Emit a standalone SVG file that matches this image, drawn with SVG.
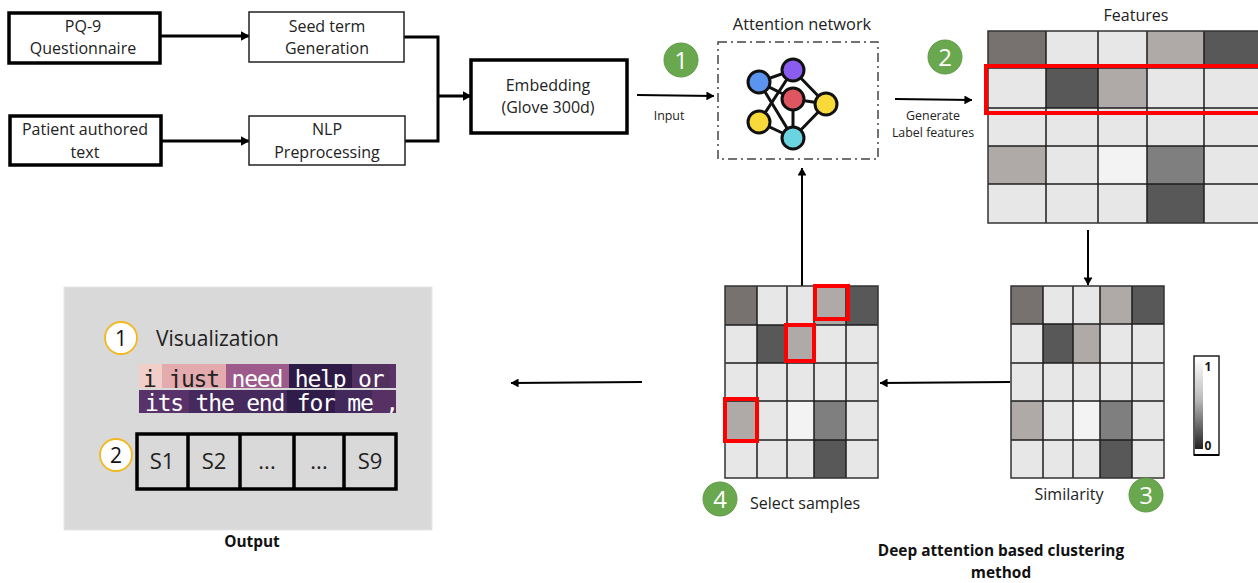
<svg xmlns="http://www.w3.org/2000/svg" width="1258" height="583" viewBox="0 0 1258 583">
<style>
text{font-family:"Open Sans","Noto Sans","Liberation Sans",sans-serif;fill:#222;text-anchor:middle}
.t{font-size:16px}
.s{font-size:12.4px}
.b{font-size:15.4px;font-weight:700;fill:#111}
.thick{fill:#fff;stroke:#000;stroke-width:3.5}
.thin{fill:#fff;stroke:#222;stroke-width:1.5}
.c{fill:none;stroke:#000;stroke-width:3}
.c2{fill:none;stroke:#000;stroke-width:2}
.green{fill:#6AA84F;stroke:#5f9a45;stroke-width:1}
.gn{font-size:24px;fill:#fff}
.ring{fill:#fff;stroke:#F2B81E;stroke-width:1.8}
.rn{font-size:23px;fill:#111}
.grid line{stroke:#1c1c1c;stroke-width:1.5}
.grid rect.f{fill:none;stroke:#333;stroke-width:1.5}
.red{fill:none;stroke:#F00;stroke-width:4}
.d{fill:#77716f}.l{fill:#E7E7E7}.g{fill:#AFAAA8}.k{fill:#585858}.w{fill:#F3F3F3}.m{fill:#7F7F7F}
.net line{stroke:#111;stroke-width:3}
.net circle{stroke:#111;stroke-width:3}
.mono{font-family:"DejaVu Sans Mono","Liberation Mono",monospace;font-size:23px;letter-spacing:-1.2px;text-anchor:start;white-space:pre}
</style>
<defs>
<marker id="a" markerWidth="3" markerHeight="3.4" refX="2.8" refY="1.7" orient="auto" markerUnits="strokeWidth"><path d="M0 0L3 1.7L0 3.4Z" fill="#000"/></marker>
<marker id="a2" markerWidth="4" markerHeight="4.4" refX="3.8" refY="2.2" orient="auto" markerUnits="strokeWidth"><path d="M0 0L4 2.2L0 4.4Z" fill="#000"/></marker>
<linearGradient id="lg" x1="0" y1="0" x2="0" y2="1"><stop offset="0" stop-color="#fff"/><stop offset=".45" stop-color="#bbb"/><stop offset="1" stop-color="#222"/></linearGradient>
<clipPath id="r1"><rect x="139" y="364" width="257" height="24"/></clipPath>
<clipPath id="r2"><rect x="139" y="390" width="257" height="23"/></clipPath>
<clipPath id="fc"><rect x="980" y="20" width="278" height="215"/></clipPath>
</defs>

<g id="connectors">
<path class="c" marker-end="url(#a)" d="M160 36H249"/>
<path class="c" marker-end="url(#a)" d="M161 141H249"/>
<path class="c" d="M404 37H438V141H405"/>
<path class="c" marker-end="url(#a)" d="M438 96H471"/>
<path class="c2" marker-end="url(#a2)" d="M637 95L714 96"/>
<path class="c2" marker-end="url(#a2)" d="M895 99L972 100"/>
<path class="c2" marker-end="url(#a2)" d="M802 286V168"/>
<path class="c2" marker-end="url(#a2)" d="M1088 230V285"/>
<path class="c2" marker-end="url(#a2)" d="M1010 382L880 383"/>
<path class="c2" marker-end="url(#a2)" d="M642 382L511 383"/>
</g>

<g id="pq9"><rect class="thick" x="9" y="13" width="151" height="50"/><text class="t" x="83" y="32">PQ-9</text><text class="t" x="83" y="54">Questionnaire</text></g>
<g id="patient"><rect class="thick" x="10" y="116" width="151" height="49"/><text class="t" x="85" y="135">Patient authored</text><text class="t" x="85" y="158">text</text></g>
<g id="seed"><rect class="thin" x="249" y="12" width="155" height="50"/><text class="t" x="327" y="32">Seed term</text><text class="t" x="327" y="54">Generation</text></g>
<g id="nlp"><rect class="thin" x="249" y="116" width="156" height="49"/><text class="t" x="327" y="135">NLP</text><text class="t" x="327" y="158">Preprocessing</text></g>
<g id="embedding"><rect class="thick" x="471" y="60" width="156" height="73"/><text class="t" x="548" y="91">Embedding</text><text class="t" x="548" y="113">(Glove 300d)</text></g>

<g id="step1"><circle class="green" cx="681" cy="60" r="17"/><text class="gn" x="681" y="69">1</text></g>
<text class="s" x="669" y="120">Input</text>

<g id="attention">
<text class="t" x="802" y="30" style="font-size:16.4px">Attention network</text>
<rect x="718" y="42" width="160" height="117" fill="none" stroke="#444" stroke-width="1.5" stroke-dasharray="9 4 2 4"/>
<g class="net">
<line x1="759" y1="82" x2="793" y2="70"/><line x1="759" y1="82" x2="793" y2="138"/><line x1="793" y1="70" x2="759" y2="122"/><line x1="793" y1="70" x2="826" y2="104"/>
<line x1="793" y1="99" x2="826" y2="104"/><line x1="793" y1="99" x2="793" y2="138"/><line x1="759" y1="122" x2="793" y2="138"/><line x1="826" y1="104" x2="793" y2="138"/><line x1="759" y1="82" x2="793" y2="99"/>
<circle cx="759" cy="82" r="11" fill="#5B94EE"/><circle cx="793" cy="70" r="11" fill="#8A5CF0"/><circle cx="793" cy="99" r="11" fill="#DF5560"/><circle cx="826" cy="104" r="11" fill="#F7D93A"/><circle cx="759" cy="122" r="11" fill="#F7D93A"/><circle cx="793" cy="138" r="11" fill="#6CD3E0"/>
</g>
</g>

<g id="step2"><circle class="green" cx="945" cy="57" r="17"/><text class="gn" x="945" y="66">2</text></g>
<text class="s" x="933" y="120">Generate</text>
<text class="s" x="933" y="137">Label features</text>

<g id="features">
<text class="t" x="1136" y="21">Features</text>
<g class="grid" clip-path="url(#fc)">
<rect class="d" x="988" y="31" width="58" height="37"/><rect class="l" x="1046" y="31" width="52" height="37"/><rect class="l" x="1098" y="31" width="49" height="37"/><rect class="g" x="1147" y="31" width="57" height="37"/><rect class="k" x="1204" y="31" width="58" height="37"/>
<rect class="l" x="988" y="68" width="58" height="40"/><rect class="k" x="1046" y="68" width="52" height="40"/><rect class="g" x="1098" y="68" width="49" height="40"/><rect class="l" x="1147" y="68" width="57" height="40"/><rect class="l" x="1204" y="68" width="58" height="40"/>
<rect class="l" x="988" y="108" width="274" height="38"/>
<rect class="g" x="988" y="146" width="58" height="38"/><rect class="l" x="1046" y="146" width="52" height="38"/><rect class="w" x="1098" y="146" width="49" height="38"/><rect class="m" x="1147" y="146" width="57" height="38"/><rect class="l" x="1204" y="146" width="58" height="38"/>
<rect class="l" x="988" y="184" width="159" height="39"/><rect class="k" x="1147" y="184" width="57" height="39"/><rect class="l" x="1204" y="184" width="58" height="39"/>
<line x1="1046" y1="31" x2="1046" y2="223"/><line x1="1098" y1="31" x2="1098" y2="223"/><line x1="1147" y1="31" x2="1147" y2="223"/><line x1="1204" y1="31" x2="1204" y2="223"/>
<line x1="988" y1="68" x2="1262" y2="68"/><line x1="988" y1="108" x2="1262" y2="108"/><line x1="988" y1="146" x2="1262" y2="146"/><line x1="988" y1="184" x2="1262" y2="184"/>
<rect class="f" x="988" y="31" width="274" height="192"/>
</g>
<rect class="red" x="986" y="66" width="280" height="47"/>
</g>

<g id="similarity">
<g class="grid">
<rect class="d" x="1011" y="286" width="32" height="38"/><rect class="l" x="1043" y="286" width="30" height="38"/><rect class="l" x="1073" y="286" width="27" height="38"/><rect class="g" x="1100" y="286" width="32" height="38"/><rect class="k" x="1132" y="286" width="32" height="38"/>
<rect class="l" x="1011" y="324" width="32" height="39"/><rect class="k" x="1043" y="324" width="30" height="39"/><rect class="g" x="1073" y="324" width="27" height="39"/><rect class="l" x="1100" y="324" width="64" height="39"/>
<rect class="l" x="1011" y="363" width="153" height="38"/>
<rect class="g" x="1011" y="401" width="32" height="39"/><rect class="l" x="1043" y="401" width="30" height="39"/><rect class="w" x="1073" y="401" width="27" height="39"/><rect class="m" x="1100" y="401" width="32" height="39"/><rect class="l" x="1132" y="401" width="32" height="39"/>
<rect class="l" x="1011" y="440" width="89" height="38"/><rect class="k" x="1100" y="440" width="32" height="38"/><rect class="l" x="1132" y="440" width="32" height="38"/>
<line x1="1043" y1="286" x2="1043" y2="478"/><line x1="1073" y1="286" x2="1073" y2="478"/><line x1="1100" y1="286" x2="1100" y2="478"/><line x1="1132" y1="286" x2="1132" y2="478"/>
<line x1="1011" y1="324" x2="1164" y2="324"/><line x1="1011" y1="363" x2="1164" y2="363"/><line x1="1011" y1="401" x2="1164" y2="401"/><line x1="1011" y1="440" x2="1164" y2="440"/>
<rect class="f" x="1011" y="286" width="153" height="192"/>
</g>
<text class="t" x="1069" y="500">Similarity</text>
</g>
<g id="step3"><circle class="green" cx="1146" cy="495" r="17"/><text class="gn" x="1146" y="504">3</text></g>

<g id="legend">
<rect x="1194" y="356" width="25" height="99" fill="#fff" stroke="#222" stroke-width="1.5"/>
<line x1="1194" y1="455" x2="1219" y2="455" stroke="#000" stroke-width="2"/>
<rect x="1195" y="358" width="8" height="91" fill="url(#lg)"/>
<text x="1208" y="371" style="font-size:12px;font-weight:700;fill:#111">1</text>
<text x="1208" y="450" style="font-size:12px;font-weight:700;fill:#111">0</text>
</g>

<g id="select">
<g class="grid">
<rect class="d" x="725" y="286" width="32" height="39"/><rect class="l" x="757" y="286" width="30" height="39"/><rect class="l" x="787" y="286" width="27" height="39"/><rect class="g" x="814" y="286" width="32" height="39"/><rect class="k" x="846" y="286" width="32" height="39"/>
<rect class="l" x="725" y="325" width="32" height="38"/><rect class="k" x="757" y="325" width="30" height="38"/><rect class="g" x="787" y="325" width="27" height="38"/><rect class="l" x="814" y="325" width="64" height="38"/>
<rect class="l" x="725" y="363" width="153" height="38"/>
<rect class="g" x="725" y="401" width="32" height="39"/><rect class="l" x="757" y="401" width="30" height="39"/><rect class="w" x="787" y="401" width="27" height="39"/><rect class="m" x="814" y="401" width="32" height="39"/><rect class="l" x="846" y="401" width="32" height="39"/>
<rect class="l" x="725" y="440" width="89" height="38"/><rect class="k" x="814" y="440" width="32" height="38"/><rect class="l" x="846" y="440" width="32" height="38"/>
<line x1="757" y1="286" x2="757" y2="478"/><line x1="787" y1="286" x2="787" y2="478"/><line x1="814" y1="286" x2="814" y2="478"/><line x1="846" y1="286" x2="846" y2="478"/>
<line x1="725" y1="325" x2="878" y2="325"/><line x1="725" y1="363" x2="878" y2="363"/><line x1="725" y1="401" x2="878" y2="401"/><line x1="725" y1="440" x2="878" y2="440"/>
<rect class="f" x="725" y="286" width="153" height="192"/>
</g>
<rect class="red" x="815" y="286" width="33" height="33"/>
<rect class="red" x="786" y="325" width="28" height="36"/>
<rect class="red" x="725" y="399" width="32" height="42"/>
<text class="t" x="805" y="509">Select samples</text>
</g>
<g id="step4"><circle class="green" cx="720" cy="499" r="17"/><text class="gn" x="720" y="508">4</text></g>

<g id="output">
<rect x="64" y="287" width="368" height="243" fill="#D9D9D9" stroke="#e6e6e6" stroke-width="1"/>
<circle class="ring" cx="121" cy="338" r="16"/><text class="rn" x="121" y="346" style="font-size:21px">1</text>
<text x="156" y="346" style="font-size:21px;text-anchor:start;fill:#222">Visualization</text>
<rect x="139" y="364" width="23" height="24" fill="#F1CFC8"/><rect x="162" y="364" width="64" height="24" fill="#E3ABAE"/><rect x="226" y="364" width="63" height="24" fill="#9C5B8B"/><rect x="289" y="364" width="63" height="24" fill="#2E1A47"/><rect x="352" y="364" width="38" height="24" fill="#52305F"/><rect x="390" y="364" width="6" height="24" fill="#5C3368"/>
<rect x="139" y="390" width="50" height="23" fill="#59326A"/><rect x="189" y="390" width="98" height="23" fill="#462A5E"/><rect x="287" y="390" width="48" height="23" fill="#2F1C48"/><rect x="335" y="390" width="37" height="23" fill="#42285B"/><rect x="372" y="390" width="24" height="23" fill="#573163"/>
<g clip-path="url(#r1)"><text class="mono" x="143" y="387" xml:space="preserve"><tspan style="fill:#222">i just </tspan><tspan style="fill:#fff">need help or</tspan></text></g>
<g clip-path="url(#r2)"><text class="mono" x="145" y="411" xml:space="preserve" style="fill:#fff">its the end for me ,</text></g>
<circle class="ring" cx="116" cy="455" r="16"/><text class="rn" x="116" y="463" style="font-size:21px">2</text>
<rect x="137" y="434" width="259" height="55" fill="none" stroke="#000" stroke-width="3.5"/>
<path d="M188 434V489M240 434V489M294 434V489M344 434V489" fill="none" stroke="#000" stroke-width="3.5"/>
<text x="162" y="469" style="font-size:22px">S1</text><text x="214" y="469" style="font-size:22px">S2</text><text x="267" y="469" style="font-size:22px">...</text><text x="319" y="469" style="font-size:22px">...</text><text x="370" y="469" style="font-size:22px">S9</text>
<text class="b" x="252" y="547">Output</text>
</g>

<g id="caption"><text class="b" x="1001" y="556">Deep attention based clustering</text><text class="b" x="1001" y="578">method</text></g>
</svg>
